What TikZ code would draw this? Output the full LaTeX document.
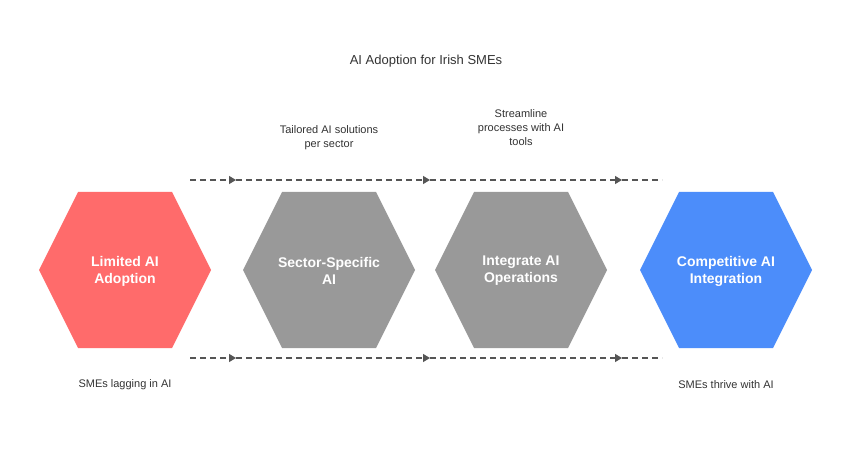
\documentclass[tikz,border=0pt]{standalone}
\usepackage{fontspec}
\setmainfont{Liberation Sans}
\usetikzlibrary{arrows.meta}
\definecolor{hred}{HTML}{FF6B6B}
\definecolor{hgray}{HTML}{999999}
\definecolor{hblue}{HTML}{4C8DFA}
\definecolor{dline}{HTML}{555555}
\definecolor{txt}{HTML}{333333}
\begin{document}
\begin{tikzpicture}[x=1pt,y=-1pt,
  hexlabel/.style={text=white,font=\bfseries\fontsize{14}{17}\selectfont,align=center},
  note/.style={text=txt,font=\fontsize{11}{14}\selectfont,align=center},
  flow/.style={dline,dashed,dash pattern=on 6pt off 4pt,line width=1.2pt},
  tip/.style={-{Triangle[length=7pt,width=8pt]}}]
\useasboundingbox (0,0) rectangle (852,468);
\fill[white] (0,0) rectangle (852,468);
\newcommand{\hexat}[2]{\fill[#2] (#1-86,270) -- (#1-47,192) -- (#1+47,192) -- (#1+86,270) -- (#1+47,348) -- (#1-47,348) -- cycle;}
\hexat{125}{hred}
\hexat{329}{hgray}
\hexat{521}{hgray}
\hexat{726}{hblue}
\node[note,font=\fontsize{13}{16}\selectfont] (title) at (426,61) {AI Adoption for Irish SMEs};
\node[hexlabel] (h1) at (125,271) {Limited AI\\Adoption};
\node[hexlabel] (h2) at (329,271) {Sector-Specific\\AI};
\node[hexlabel] (h3) at (521,271) {Integrate AI\\Operations};
\node[hexlabel] (h4) at (726,271) {Competitive AI\\Integration};
\foreach \y/\n in {180/t,358/b}{
  \coordinate (\n0) at (190,\y);
  \coordinate (\n1) at (236,\y);
  \coordinate (\n2) at (430,\y);
  \coordinate (\n3) at (622,\y);
  \coordinate (\n4) at (662,\y);
  \draw[flow,tip] (\n0) -- (\n1);
  \draw[flow,tip] (\n1) -- (\n2);
  \draw[flow,tip] (\n2) -- (\n3);
  \draw[flow] (\n3) -- (\n4);
}
\node[note] (n1) at (329,138) {Tailored AI solutions\\per sector};
\node[note] (n2) at (521,128) {Streamline\\processes with AI\\tools};
\node[note] (n3) at (125,385) {SMEs lagging in AI};
\node[note] (n4) at (726,385) {SMEs thrive with AI};
\end{tikzpicture}
\end{document}
